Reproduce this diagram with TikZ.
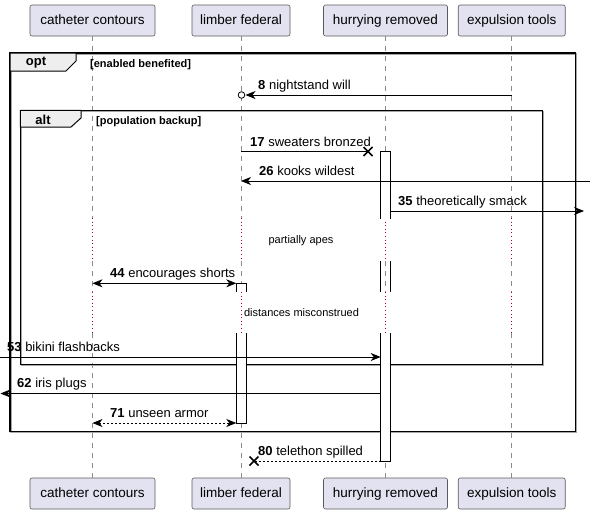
\documentclass[tikz,border=0pt]{standalone}
\usepackage{fontspec}
\setmainfont{Liberation Sans}
\usetikzlibrary{arrows.meta}

\definecolor{partfill}{HTML}{E2E2F0}
\definecolor{partline}{HTML}{5A5A5A}
\definecolor{tabfill}{HTML}{EEEEEE}
\definecolor{lifegray}{HTML}{8A8A8A}
\definecolor{delayred}{HTML}{A80036}

\tikzset{
  participant/.style={draw=partline, fill=partfill, rounded corners=2pt,
    line width=0.6pt, minimum height=31pt, inner sep=0pt,
    text height=10pt, text depth=3pt,
    font=\fontsize{13.5}{16}\selectfont},
  lifeline/.style={draw=lifegray, line width=0.6pt, dash pattern=on 5pt off 5pt},
  delayline/.style={draw=delayred, line width=0.9pt, dash pattern=on 1pt off 2.6pt},
  bar/.style={draw=black, line width=0.8pt},
  msg/.style={draw=black, line width=0.8pt,
    -{Stealth[length=10pt,width=8pt,inset=3pt]}},
  bidir/.style={draw=black, line width=0.8pt,
    {Stealth[length=10pt,width=8pt,inset=3pt]}-{Stealth[length=10pt,width=8pt,inset=3pt]}},
  plainmsg/.style={draw=black, line width=0.8pt},
  mlabel/.style={anchor=base west, inner sep=0pt, font=\fontsize{13}{15}\selectfont},
  delaytext/.style={inner sep=0pt, font=\fontsize{11}{13}\selectfont},
  framebox/.style={draw=black, line width=1.3pt},
  frameshadow/.style={draw=black!35, line width=1.3pt},
  tabshape/.style={draw=black, line width=1pt, fill=tabfill},
  tabtext/.style={inner sep=0pt, font=\bfseries\fontsize{13}{15}\selectfont},
  guardtext/.style={anchor=base west, inner sep=0pt, font=\bfseries\fontsize{11}{13}\selectfont},
  lostx/.style={draw=black, line width=1.5pt},
}

\begin{document}
\begin{tikzpicture}[x=1pt, y=-1pt]
\useasboundingbox (0,0) rectangle (590,514);

% participants, top and bottom
\node[participant, minimum width=125pt] (catT) at (92.5,20.5) {catheter contours};
\node[participant, minimum width=98pt]  (limT) at (241,20.5) {limber federal};
\node[participant, minimum width=124pt] (hurT) at (385.5,20.5) {hurrying removed};
\node[participant, minimum width=107pt] (expT) at (511.7,20.5) {expulsion tools};
\node[participant, minimum width=125pt] (catB) at (92.5,493.5) {catheter contours};
\node[participant, minimum width=98pt]  (limB) at (241,493.5) {limber federal};
\node[participant, minimum width=124pt] (hurB) at (385.5,493.5) {hurrying removed};
\node[participant, minimum width=107pt] (expB) at (511.7,493.5) {expulsion tools};

% lifelines, dotted through the two delays
\foreach \p in {cat,lim,hur,exp}{
  \draw[lifeline]  (\p T.south) -- (\p T |- 0,218);
  \draw[delayline] (\p T |- 0,218) -- (\p T |- 0,261);
  \draw[lifeline]  (\p T |- 0,261) -- (\p T |- 0,292);
  \draw[delayline] (\p T |- 0,292) -- (\p T |- 0,333);
  \draw[lifeline]  (\p T |- 0,333) -- (\p B.north);
}

% opt frame
\draw[frameshadow] (11,54) rectangle (576.7,432.7);
\draw[framebox] (10,53) rectangle (575.7,431.7);
\draw[tabshape] (10,53) -- (76,53) -- (76,61) -- (66,71) -- (10,71) -- cycle;
\node[tabtext] (optlbl) at (36,62.5) {opt};
\node[guardtext] (optguard) at (90,67) {[enabled benefited]};

% alt frame
\draw[frameshadow] (21.3,111.3) rectangle (543.3,365.3);
\draw[framebox] (20.3,110.3) rectangle (542.3,364.3);
\draw[tabshape] (20.3,110.3) -- (81,110.3) -- (81,118) -- (71,127) -- (20.3,127) -- cycle;
\node[tabtext] (altlbl) at (43,119.5) {alt};
\node[guardtext] (altguard) at (96,124) {[population backup]};

% activation bars of hurrying removed
\draw[bar, fill=white] (380.7,219) -- (380.7,151.5) -- (390.3,151.5) -- (390.3,219);
\draw[bar] (380.7,261) -- (380.7,292);
\draw[bar] (390.3,261) -- (390.3,292);
\draw[bar, fill=white] (380.7,333) -- (380.7,461) -- (390.3,461) -- (390.3,333);
% activation bars of limber federal
\draw[bar, fill=white] (236.3,292) -- (236.3,283.3) -- (246.3,283.3) -- (246.3,292);
\draw[bar, fill=white] (236.3,333) -- (236.3,423) -- (246.3,423) -- (246.3,333);

% delays
\node[delaytext] (d1) at (301,241) {partially apes};
\node[delaytext] (d2) at (301.5,313) {distances misconstrued};

% 8
\coordinate (m8a) at (expT |- 0,95);
\coordinate (m8b) at (245.5,95);
\draw[msg] (m8a) -- (m8b);
\draw[line width=0.8pt, fill=white] (241.5,95) circle (3.3pt);
\node[mlabel] (l8) at (258,89) {\textbf{8} nightstand will};

% 17
\coordinate (m17a) at (limT |- 0,151.5);
\coordinate (m17b) at (368,151.5);
\draw[plainmsg] (m17a) -- (m17b);
\draw[lostx] (363.5,147) -- (372.5,156) (363.5,156) -- (372.5,147);
\node[mlabel] (l17) at (250,146) {\textbf{17} sweaters bronzed};

% 26
\coordinate (m26a) at (590,181);
\coordinate (m26b) at (limT |- 0,181);
\draw[msg] (m26a) -- (m26b);
\node[mlabel] (l26) at (259,175) {\textbf{26} kooks wildest};

% 35
\coordinate (m35a) at (390.3,211);
\coordinate (m35b) at (584,211);
\draw[msg] (m35a) -- (m35b);
\node[mlabel] (l35) at (398,205) {\textbf{35} theoretically smack};

% 44
\coordinate (m44a) at (catT |- 0,283.3);
\coordinate (m44b) at (236.3,283.3);
\draw[bidir] (m44a) -- (m44b);
\node[mlabel] (l44) at (110,277.5) {\textbf{44} encourages shorts};

% 53
\coordinate (m53a) at (0,357);
\coordinate (m53b) at (380.7,357);
\draw[msg] (m53a) -- (m53b);
\node[mlabel] (l53) at (7,351) {\textbf{53} bikini flashbacks};

% 62
\coordinate (m62a) at (380.7,393.5);
\coordinate (m62b) at (0.5,393.5);
\draw[msg] (m62a) -- (m62b);
\node[mlabel] (l62) at (17,387.5) {\textbf{62} iris plugs};

% 71
\coordinate (m71a) at (catT |- 0,423);
\coordinate (m71b) at (236.3,423);
\draw[bidir, dash pattern=on 2pt off 2pt] (m71a) -- (m71b);
\node[mlabel] (l71) at (110,417) {\textbf{71} unseen armor};

% 80
\coordinate (m80a) at (380.7,461);
\coordinate (m80b) at (254,461);
\draw[plainmsg, dash pattern=on 2pt off 2pt] (m80a) -- (m80b);
\draw[lostx] (249.5,456.5) -- (258.5,465.5) (249.5,465.5) -- (258.5,456.5);
\node[mlabel] (l80) at (258,455) {\textbf{80} telethon spilled};
\end{tikzpicture}
\end{document}
